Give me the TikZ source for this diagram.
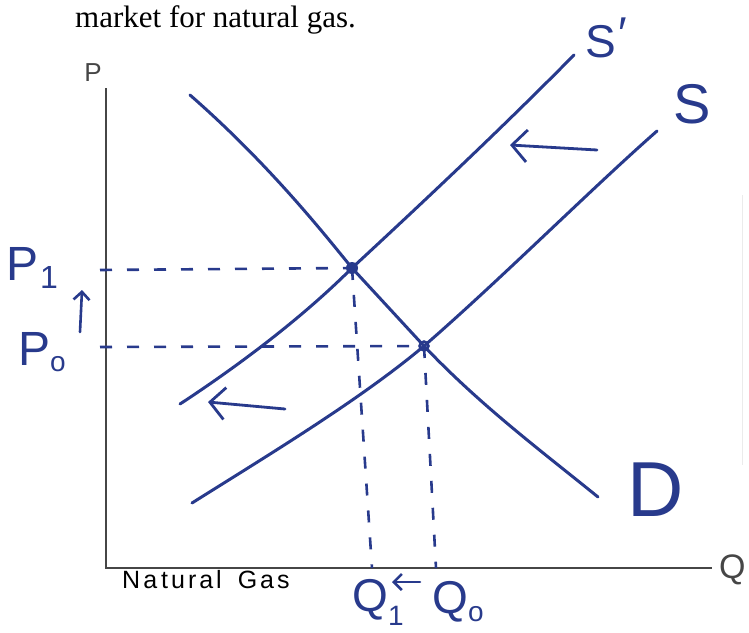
\documentclass[tikz,border=0pt]{standalone}
\usepackage{fontspec}
\setmainfont{Liberation Serif}
\newfontfamily\hand{Liberation Sans}
\usetikzlibrary{arrows.meta}
\definecolor{ink}{RGB}{40,58,140}
\definecolor{axisgray}{RGB}{70,70,70}
\tikzset{
  curve/.style={ink, line width=3pt, line cap=round},
  dashline/.style={ink, line width=2.6pt, dash pattern=on 12pt off 15pt},
  shiftarrow/.style={ink, line width=2.8pt, line cap=round, -{Straight Barb[length=15pt,width=32pt,line width=2.8pt]}},
  smallarrow/.style={ink, line width=2.6pt, line cap=round, -{Straight Barb[length=8pt,width=16pt,line width=2.6pt]}},
  axisline/.style={axisgray, line width=2.4pt},
  handlbl/.style={ink, inner sep=0pt, font=\hand},
}
\begin{document}
\begin{tikzpicture}[x=1pt,y=-1pt]
\useasboundingbox (0,0) rectangle (749,632);
% title
\node[anchor=base west, inner sep=0pt, font=\fontsize{31}{31}\selectfont] (title) at (75,27) {market for natural gas.};
% faint scan line
\coordinate (g1) at (742,195);
\coordinate (g2) at (742,465);
\draw[black!8, line width=1pt] (g1) -- (g2);
% axes
\coordinate (ytop) at (106,88);
\coordinate (orig) at (106,568);
\coordinate (xend) at (712,568);
\draw[axisline] (ytop) -- (orig) -- (xend);
\node[handlbl, text=axisgray, font=\hand\fontsize{26}{26}\selectfont] (plbl) at (93,73) {P};
\node[handlbl, text=axisgray, anchor=west, font=\hand\fontsize{34}{34}\selectfont] (qlbl) at (719,570) {Q};
\node[handlbl, text=black, anchor=west, font=\hand\fontsize{25}{25}\selectfont] (ng) at (122,580) {N\kern3pt a\kern4pt t\kern3pt u\kern3pt r\kern3pt a\kern3pt l\kern16pt G\kern3pt a\kern3pt s};
% equilibria
\coordinate (E1) at (352,268);
\coordinate (E0) at (424,346);
% demand
\coordinate (d1) at (190,95);
\coordinate (d4) at (598,497);
\draw[curve] (d1) .. controls (270,165) and (325,235) .. (E1) -- (E0) .. controls (480,405) and (540,450) .. (d4);
% supply S'
\coordinate (sp1) at (180,404);
\coordinate (sp4) at (574,55);
\draw[curve] (sp1) .. controls (235,368) and (300,320) .. (E1) .. controls (420,205) and (500,130) .. (sp4);
% supply S
\coordinate (s1) at (192,503);
\coordinate (s4) at (657,131);
\draw[curve] (s1) .. controls (265,457) and (360,400) .. (E0) .. controls (500,280) and (590,190) .. (s4);
% labels of curves
\node[handlbl, font=\hand\fontsize{46}{46}\selectfont] (lsp) at (606,38) {S\kern2pt\raisebox{8pt}{\char"2032}};
\node[handlbl, font=\hand\fontsize{56}{56}\selectfont] (ls) at (692,104) {S};
\node[handlbl, font=\hand\fontsize{78}{78}\selectfont] (ld) at (656,490) {D};
% dashed guides
\coordinate (p1ax) at (100,270);
\coordinate (p0ax) at (100,347);
\coordinate (q1ax) at (372,568);
\coordinate (q0ax) at (436,568);
\draw[dashline] (p1ax) -- (E1);
\draw[dashline] (p0ax) -- (E0);
\draw[dashline] (E1) -- (q1ax);
\draw[dashline] (E0) -- (q0ax);
\fill[ink] (E1) circle (6pt);
\draw[ink, line width=2.5pt] (E0) circle (4.5pt);
% price and quantity labels
\node[handlbl, font=\hand\fontsize{48}{48}\selectfont] (lp1) at (32,268) {P\kern2pt\raisebox{-8pt}{\fontsize{32}{32}\selectfont 1}};
\node[handlbl, font=\hand\fontsize{48}{48}\selectfont] (lp0) at (42,352) {P\raisebox{-6pt}{\fontsize{28}{28}\selectfont o}};
\node[handlbl, font=\hand\fontsize{46}{46}\selectfont] (lq1) at (378,602) {Q\raisebox{-14pt}{\fontsize{28}{28}\selectfont 1}};
\node[handlbl, font=\hand\fontsize{46}{46}\selectfont] (lq0) at (458,602) {Q\raisebox{-8pt}{\fontsize{28}{28}\selectfont o}};
% shift arrows
\coordinate (a1t) at (597,150);
\coordinate (a1h) at (510,145);
\draw[shiftarrow] (a1t) -- (a1h);
\coordinate (a2t) at (285,409);
\coordinate (a2h) at (208,402);
\draw[shiftarrow] (a2t) -- (a2h);
\coordinate (a3t) at (80,332);
\coordinate (a3h) at (82,290);
\draw[smallarrow] (a3t) -- (a3h);
\coordinate (a4t) at (420,582);
\coordinate (a4h) at (392,582);
\draw[smallarrow] (a4t) -- (a4h);
\end{tikzpicture}
\end{document}
